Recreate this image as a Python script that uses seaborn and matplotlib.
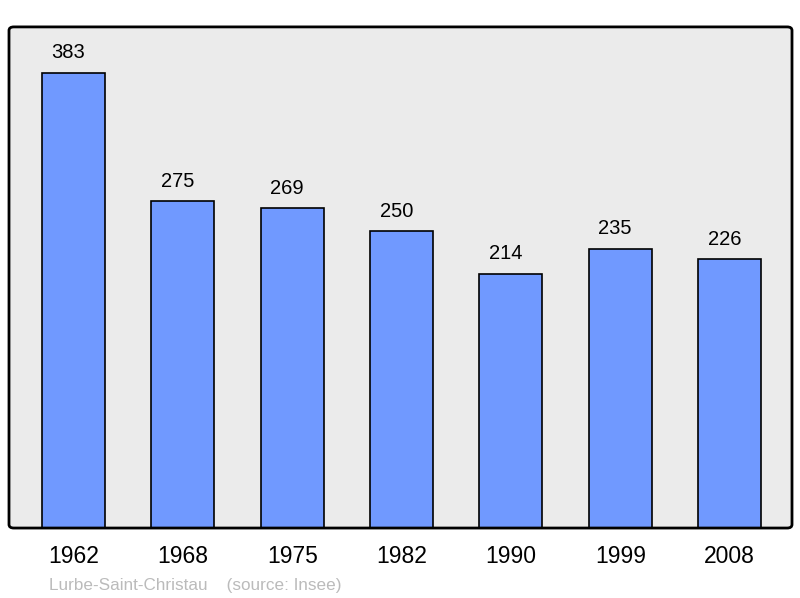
import matplotlib
matplotlib.use("Agg")
import matplotlib.pyplot as plt
import seaborn as sns
import pandas as pd
from matplotlib.patches import FancyBboxPatch

years = ["1962", "1968", "1975", "1982", "1990", "1999", "2008"]
population = [383, 275, 269, 250, 214, 235, 226]
source_text = "Lurbe-Saint-Christau    (source: Insee)"

sns.set_style("white")
plt.rcParams['font.family'] = ['Liberation Sans', 'DejaVu Sans']

df = pd.DataFrame({"year": years, "pop": population})

fig = plt.figure(figsize=(8, 5.98), dpi=100)
ax = fig.add_axes([0.01125, 0.117, 0.97875, 0.838])
ax.set_facecolor("#EBEBEB")

sns.barplot(data=df, x="year", y="pop", color="#7099FF", saturation=1,
            width=0.576, edgecolor="black", linewidth=1.2, ax=ax, zorder=3)

ax.set_ylim(0, 421.7)
ax.set_xlim(-0.59, 6.57)
ax.set_xlabel("")
ax.set_ylabel("")
ax.set_yticks([])
ax.tick_params(axis="x", length=0, labelsize=16.5, labelcolor="black", pad=12)
for s in ax.spines.values():
    s.set_visible(False)

for i, v in enumerate(population):
    ax.annotate(str(v), (i, v), xytext=(-3.8, 7.5), textcoords="offset points",
                ha="center", va="bottom", fontsize=14.5, color="black")

frame = FancyBboxPatch((0.01125, 0.117), 0.97875, 0.838,
                       boxstyle="round,pad=0,rounding_size=0.006",
                       transform=fig.transFigure, fill=False,
                       edgecolor="black", linewidth=2, zorder=10)
fig.patches.append(frame)

fig.text(0.061, 0.0134, source_text, fontsize=12.3, color="#BBBBBB",
         ha="left", va="baseline")

fig.savefig("out.png", dpi=100)
